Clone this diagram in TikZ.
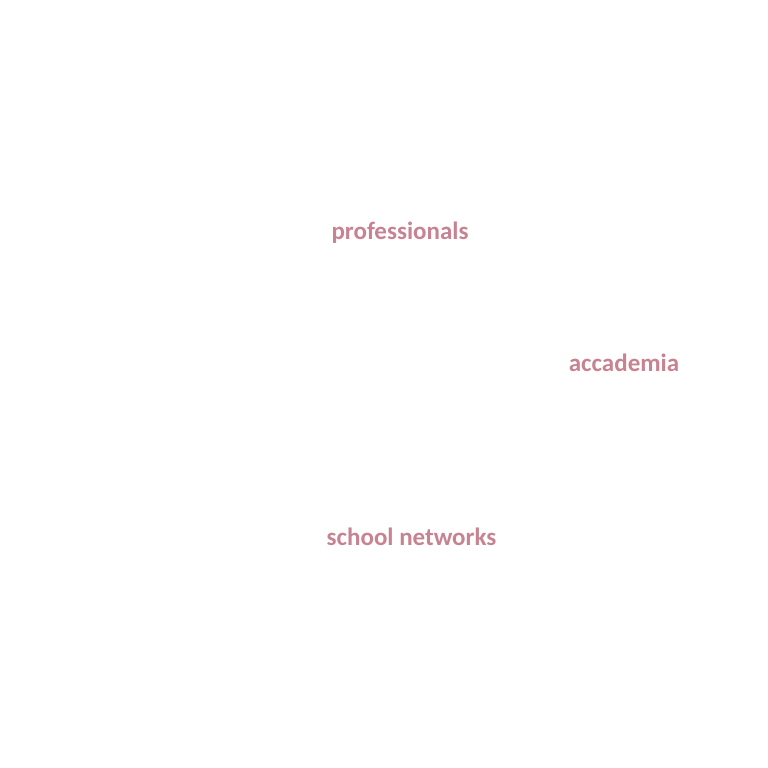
\documentclass[tikz,border=0pt]{standalone}
\usepackage{fontspec}
\setmainfont{Carlito}
\usepackage{xcolor}
\definecolor{labelpink}{RGB}{200,131,146}

\begin{document}
\begin{tikzpicture}[x=1pt, y=-1pt,
        label text/.style={text=labelpink, font=\fontsize{25}{29}\selectfont\bfseries, inner sep=0pt, anchor=base}]
        \useasboundingbox (0,0) rectangle (768,768);

        \node[label text] (professionals) at (400, 239) {professionals};
        \node[label text] (accademia) at (624, 371) {accademia}; % right
        \node[label text] (school) at (411.5, 545) {school networks};
    \end{tikzpicture}
\end{document}
